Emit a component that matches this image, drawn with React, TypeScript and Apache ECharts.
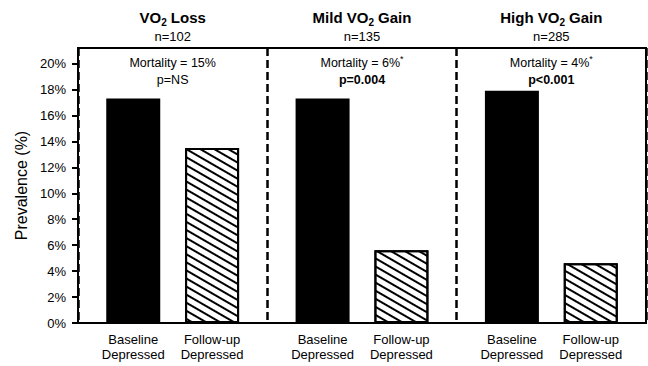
import React, { useEffect, useRef } from "react";
import * as echarts from "echarts";

// Groups by change in peak VO2, with group sizes
const groupNames = ["VO₂ Loss", "Mild VO₂ Gain", "High VO₂ Gain"];
const groupSizes = [102, 135, 285];

// Prevalence of depression (%) at baseline and at follow-up
const baselineDepressed = [17.3, 17.3, 17.9];
const followUpDepressed = [13.5, 5.6, 4.6];

// Mortality annotations per group
const mortality = ["15%", "6%", "4%"];
const significant = [false, true, true];
const pValues = ["p=NS", "p=0.004", "p<0.001"];

// Y axis
const yTicks = [0, 2, 4, 6, 8, 10, 12, 14, 16, 18, 20];
const yMax = 21.2;

const FONT = "'Liberation Sans', Arial, Helvetica, sans-serif";

function titleRich(name: string): string {
  const parts = name.split("₂");
  return parts.map((p) => (p ? `{t|${p}}` : "")).join("{sub|2}");
}

export default function App() {
  const ref = useRef<HTMLDivElement>(null);

  useEffect(() => {
    if (!ref.current) return;
    const chart = echarts.init(ref.current, undefined, { renderer: "svg" });

    const option: echarts.EChartsOption = {
      animation: false,
      textStyle: { fontFamily: FONT, color: "#000" },
      grid: {
        left: 78,
        right: 2,
        top: 48,
        bottom: 43,
        show: true,
        borderColor: "#000",
        borderWidth: 2,
        backgroundColor: "transparent",
      },
      xAxis: [
        {
          type: "category",
          data: groupNames,
          position: "bottom",
          axisLine: { show: true, lineStyle: { color: "#000", width: 2 } },
          axisTick: { show: false },
          axisLabel: { show: false },
          splitLine: {
            show: true,
            lineStyle: { color: "#000", width: 2.5, type: [8, 4] },
          },
        },
        {
          type: "category",
          data: groupNames,
          position: "top",
          axisLine: { show: false },
          axisTick: { show: false },
          splitLine: { show: false },
          axisLabel: {
            margin: 3,
            interval: 0,
            formatter: (value: string, idx: number) =>
              `${titleRich(value)}\n{n|n=${groupSizes[idx]}}`,
            rich: {
              t: { fontFamily: FONT, fontSize: 15, fontWeight: "bold", lineHeight: 20, color: "#000" },
              sub: {
                fontFamily: FONT,
                fontSize: 10,
                fontWeight: "bold",
                lineHeight: 20,
                verticalAlign: "bottom",
                color: "#000",
              },
              n: { fontFamily: FONT, fontSize: 13, lineHeight: 18, color: "#000" },
            },
          },
        },
        {
          type: "category",
          data: groupNames,
          position: "top",
          axisLine: { show: false },
          axisTick: { show: false },
          splitLine: { show: false },
          axisLabel: {
            inside: true,
            margin: 6,
            interval: 0,
            formatter: (_v: string, idx: number) =>
              `{m|Mortality = ${mortality[idx]}}` +
              (significant[idx] ? "{s|*}" : "") +
              `\n{${significant[idx] ? "pb" : "p"}|${pValues[idx]}}`,
            rich: {
              m: { fontFamily: FONT, fontSize: 12.5, lineHeight: 17, color: "#000" },
              s: { fontFamily: FONT, fontSize: 9, lineHeight: 17, verticalAlign: "top", color: "#000" },
              p: { fontFamily: FONT, fontSize: 12.5, lineHeight: 17, color: "#000" },
              pb: { fontFamily: FONT, fontSize: 12.5, fontWeight: "bold", lineHeight: 17, color: "#000" },
            },
          },
        },
      ],
      yAxis: {
        type: "value",
        min: 0,
        max: yMax,
        name: "Prevalence (%)",
        nameLocation: "middle",
        nameGap: 48,
        nameTextStyle: { fontFamily: FONT, fontSize: 16, color: "#000" },
        axisLine: { show: true, lineStyle: { color: "#000", width: 2 } },
        axisTick: {
          show: true,
          length: 6,
          lineStyle: { color: "#000", width: 2 },
          customValues: yTicks,
        },
        axisLabel: {
          fontFamily: FONT,
          fontSize: 13,
          color: "#000",
          margin: 12,
          formatter: "{value}%",
          customValues: yTicks,
        },
        splitLine: { show: false },
      },
      series: [
        {
          name: "Baseline Depressed",
          type: "bar",
          xAxisIndex: 0,
          data: baselineDepressed,
          barWidth: 54,
          barGap: "46%",
          itemStyle: { color: "#000" },
          label: {
            show: true,
            position: "bottom",
            distance: 9,
            formatter: "Baseline\nDepressed",
            fontFamily: FONT,
            fontSize: 13,
            lineHeight: 15,
            color: "#000",
          },
        },
        {
          name: "Follow-up Depressed",
          type: "bar",
          xAxisIndex: 0,
          data: followUpDepressed,
          barWidth: 54,
          barGap: "46%",
          itemStyle: {
            color: "#fff",
            borderColor: "#000",
            borderWidth: 2,
            decal: {
              symbol: "rect",
              symbolSize: 1,
              color: "#000",
              backgroundColor: "#fff",
              dashArrayX: [1, 0],
              dashArrayY: [1.3, 4.6],
              rotation: Math.PI / 6,
            },
          },
          label: {
            show: true,
            position: "bottom",
            distance: 9,
            formatter: "Follow-up\nDepressed",
            fontFamily: FONT,
            fontSize: 13,
            lineHeight: 15,
            color: "#000",
          },
        },
      ],
    };

    chart.setOption(option);
    return () => chart.dispose();
  }, []);

  return (
    <div
      ref={ref}
      style={{ position: "absolute", left: 0, top: 0, width: 648, height: 366 }}
    />
  );
}
